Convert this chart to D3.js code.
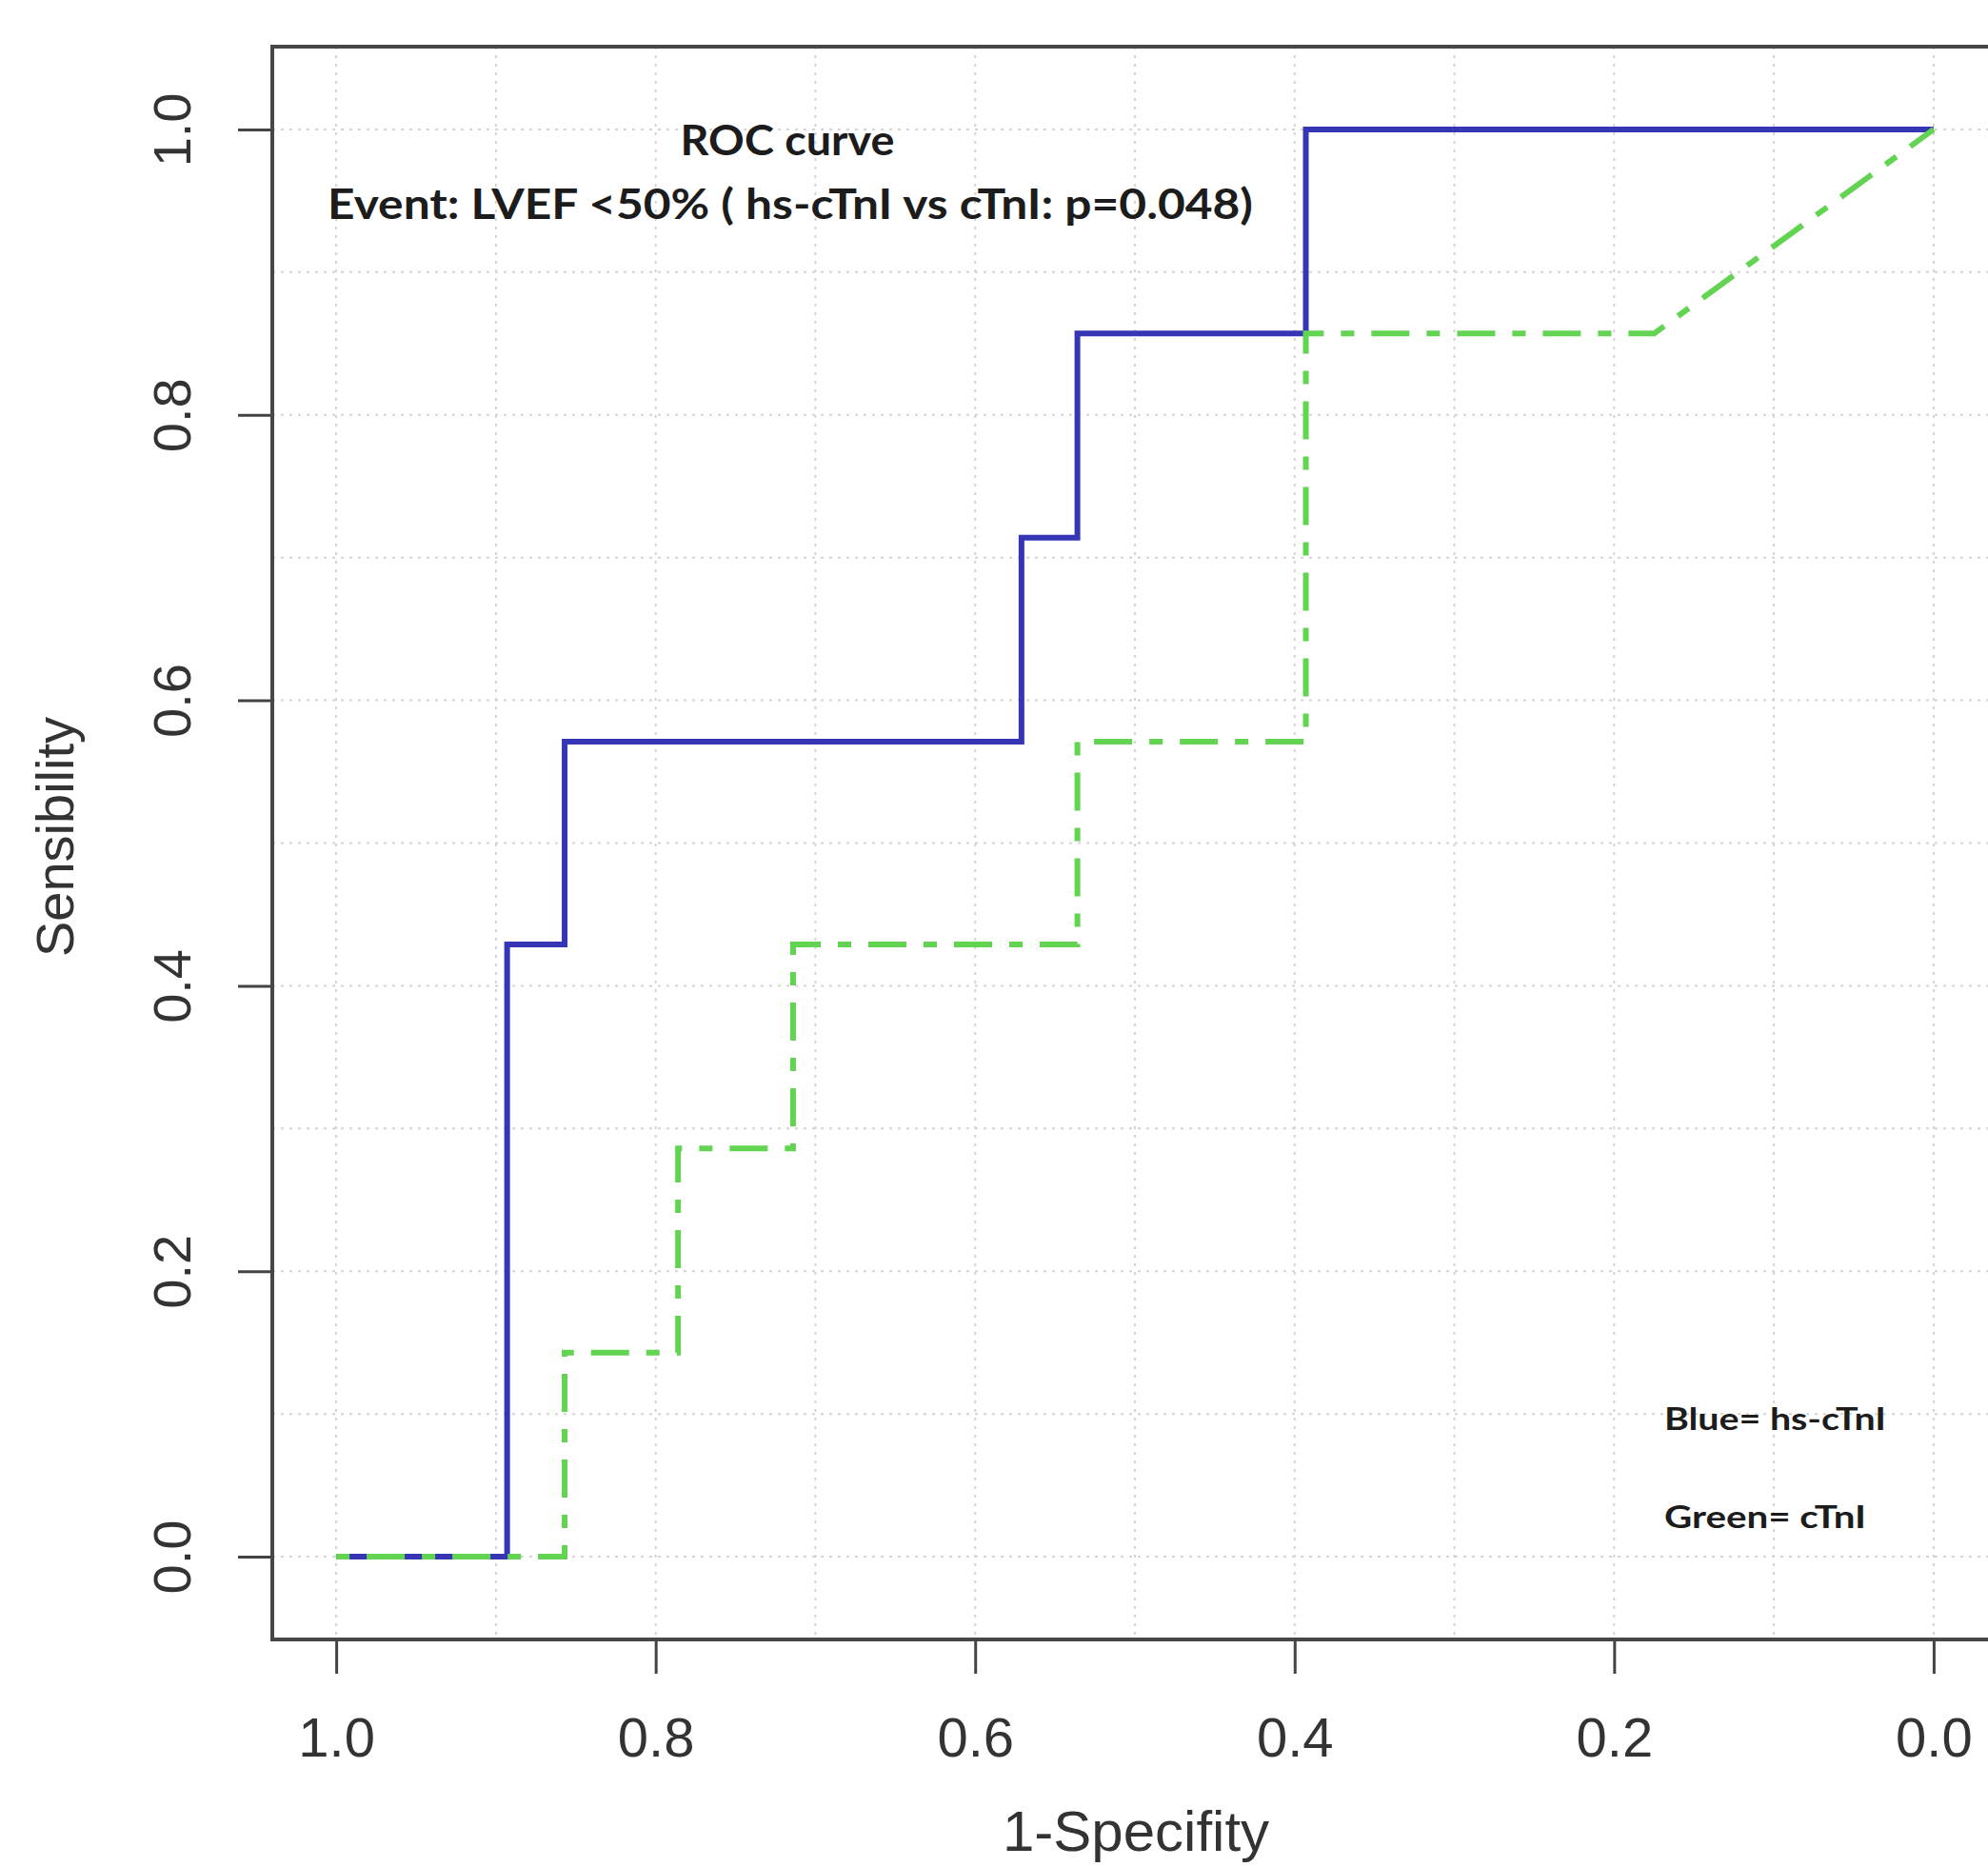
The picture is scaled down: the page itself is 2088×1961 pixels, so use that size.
<!DOCTYPE html>
<html>
<head>
<meta charset="utf-8">
<title>ROC curve</title>
<script src="https://d3js.org/d3.v7.min.js"></script>
<style>
  body { margin: 0; background: #fff; }
  .axis text { font-family: "Liberation Sans", Arial, sans-serif; fill: #333; }
  .axis line { stroke: #444; stroke-width: 3px; }
  .axis path.domain { display: none; }
  .grid line { stroke: #d4d4d4; stroke-width: 2px; stroke-dasharray: 3,6; }
  .note { font-family: Lato, "Open Sans", sans-serif; font-weight: bold; fill: #1c1c1c; }
</style>
</head>
<body>
<div id="chart"></div>
<script>
// hs-cTnI (blue), vertices of the ROC curve: specificity / sensitivity
var blueSpec = [1.0, 0.893, 0.893, 0.857, 0.857, 0.571, 0.571, 0.536, 0.536, 0.393, 0.393, 0.0];
var blueSens = [0.0, 0.0, 0.429, 0.429, 0.571, 0.571, 0.714, 0.714, 0.857, 0.857, 1.0, 1.0];

// cTnI (green)
var greenSpec = [1.0, 0.857, 0.857, 0.786, 0.786, 0.714, 0.714, 0.536, 0.536, 0.393, 0.393, 0.175, 0.0];
var greenSens = [0.0, 0.0, 0.143, 0.143, 0.286, 0.286, 0.429, 0.429, 0.571, 0.571, 0.857, 0.857, 1.0];

var axisTicks = [0, 0.2, 0.4, 0.6, 0.8, 1.0];
var gridTicks = [0, 0.1, 0.2, 0.3, 0.4, 0.5, 0.6, 0.7, 0.8, 0.9, 1.0];

var width = 2088, height = 1961;
var box = { left: 286, right: 2098, top: 49, bottom: 1722 };

var svg = d3.select("#chart").append("svg")
    .attr("width", width)
    .attr("height", height);

// x runs from 1 (left) to 0 (right)
var x = d3.scaleLinear().domain([1.04, -0.04]).range([box.left, box.right]);
var y = d3.scaleLinear().domain([-0.058, 1.058]).range([box.bottom, box.top]);

// dotted grid
var grid = svg.append("g").attr("class", "grid");
grid.selectAll("line.v").data(gridTicks).enter().append("line")
    .attr("x1", function(d){ return x(d); }).attr("x2", function(d){ return x(d); })
    .attr("y1", box.top).attr("y2", box.bottom);
grid.selectAll("line.h").data(gridTicks).enter().append("line")
    .attr("y1", function(d){ return y(d); }).attr("y2", function(d){ return y(d); })
    .attr("x1", box.left).attr("x2", box.right);

// curves
var line = d3.line()
    .x(function(d){ return x(d[0]); })
    .y(function(d){ return y(d[1]); });

svg.append("path")
    .datum(d3.zip(blueSpec, blueSens))
    .attr("d", line)
    .attr("fill", "none")
    .attr("stroke", "#3535b5")
    .attr("stroke-width", 6);

svg.append("path")
    .datum(d3.zip(greenSpec, greenSens))
    .attr("d", line)
    .attr("fill", "none")
    .attr("stroke", "#62d452")
    .attr("stroke-width", 6)
    .attr("stroke-dasharray", "14,18,40,18");

// box
svg.append("rect")
    .attr("x", box.left).attr("y", box.top)
    .attr("width", box.right - box.left).attr("height", box.bottom - box.top)
    .attr("fill", "none").attr("stroke", "#474747").attr("stroke-width", 4);

// axes
var xAxis = svg.append("g")
    .attr("class", "axis")
    .attr("transform", "translate(0," + box.bottom + ")")
    .call(d3.axisBottom(x).tickValues(axisTicks).tickFormat(d3.format(".1f")).tickSize(36).tickPadding(46));
xAxis.selectAll("text").style("font-size", "58px");

var yAxis = svg.append("g")
    .attr("class", "axis")
    .attr("transform", "translate(" + box.left + ",0)")
    .call(d3.axisLeft(y).tickValues(axisTicks).tickFormat(d3.format(".1f")).tickSize(36));
yAxis.selectAll("text")
    .style("font-size", "56px")
    .attr("x", 0).attr("y", -86).attr("dy", 0)
    .attr("text-anchor", "middle")
    .attr("transform", "rotate(-90)");

// axis titles
svg.append("text")
    .attr("class", "axis")
    .attr("x", 1193).attr("y", 1944)
    .attr("text-anchor", "middle")
    .style("font-family", "'Liberation Sans', Arial, sans-serif")
    .style("font-size", "60px").style("fill", "#333")
    .text("1-Specifity");

svg.append("text")
    .attr("transform", "translate(77,879) rotate(-90)")
    .attr("text-anchor", "middle")
    .style("font-family", "'Liberation Sans', Arial, sans-serif")
    .style("font-size", "56px").style("fill", "#333")
    .text("Sensibility");

// notes inside the plot
svg.append("text").attr("class", "note")
    .attr("x", 827).attr("y", 163).attr("text-anchor", "middle")
    .style("font-size", "44px")
    .attr("textLength", 225).attr("lengthAdjust", "spacingAndGlyphs")
    .text("ROC curve");

svg.append("text").attr("class", "note")
    .attr("x", 830).attr("y", 230).attr("text-anchor", "middle")
    .style("font-size", "44px")
    .attr("textLength", 972).attr("lengthAdjust", "spacingAndGlyphs")
    .text("Event: LVEF <50% ( hs-cTnI vs cTnI: p=0.048)");

svg.append("text").attr("class", "note")
    .attr("x", 1748).attr("y", 1502)
    .style("font-size", "32px")
    .attr("textLength", 233).attr("lengthAdjust", "spacingAndGlyphs")
    .text("Blue= hs-cTnI");

svg.append("text").attr("class", "note")
    .attr("x", 1748).attr("y", 1605)
    .style("font-size", "32px")
    .attr("textLength", 212).attr("lengthAdjust", "spacingAndGlyphs")
    .text("Green= cTnI");
</script>
</body>
</html>
